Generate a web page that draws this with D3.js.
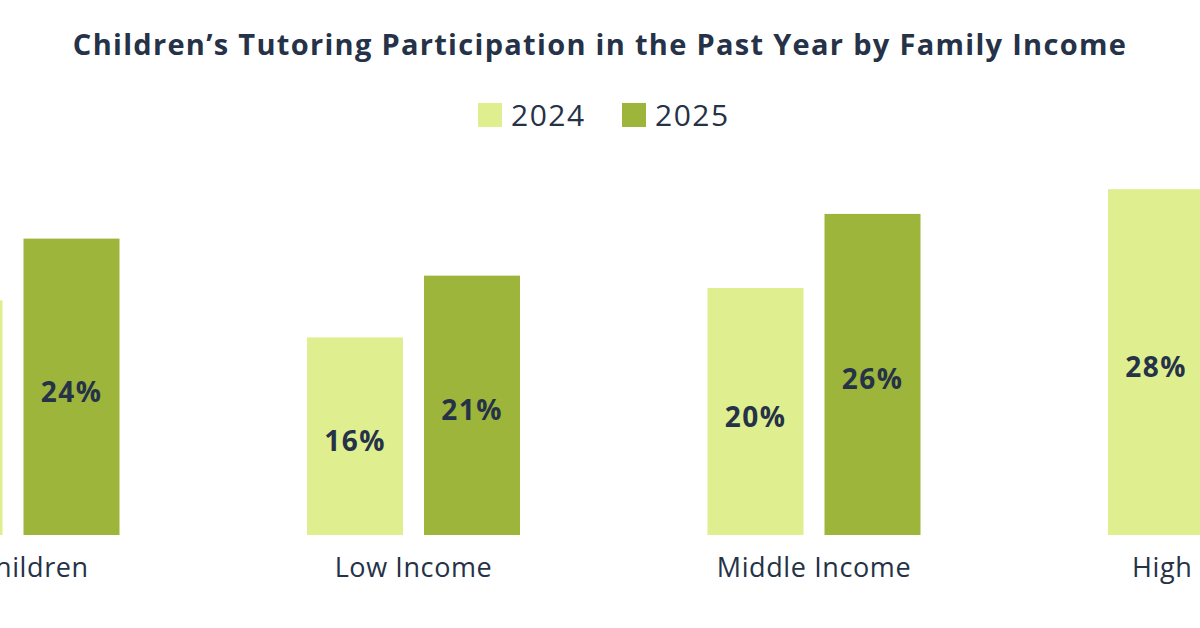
<!DOCTYPE html>
<html>
<head>
<meta charset="utf-8">
<script src="https://cdn.jsdelivr.net/npm/d3@7"></script>
<style>
  body { margin: 0; background: #fff; }
  text { font-family: "Open Sans", "Noto Sans", sans-serif; fill: #253247; }
</style>
</head>
<body>
<div id="chart"></div>
<script>
// chart data
var categories = ["All Children", "Low Income", "Middle Income", "High Income"];
var seriesNames = ["2024", "2025"];
var values2024 = [19, 16, 20, 28];
var values2025 = [24, 21, 26, 33];
var colors = ["#dfee8e", "#9db53b"];

var width = 1200, height = 628;
var baseline = 535;

var svg = d3.select("#chart").append("svg")
  .attr("width", width)
  .attr("height", height);

// group centers (the picture is cropped on both sides)
var x0 = d3.scalePoint().domain(categories).range([13, 1214.5]);
var x1 = d3.scaleBand().domain(seriesNames).range([-106.5, 106.5]).paddingInner(21 / 117);
var y = d3.scaleLinear().domain([0, 10]).range([baseline, baseline - 123.5]);

var rows = [];
categories.forEach(function(c, i) {
  rows.push({ cat: c, series: "2024", value: values2024[i] });
  rows.push({ cat: c, series: "2025", value: values2025[i] });
});

svg.append("text")
  .attr("x", 600).attr("y", 55)
  .attr("text-anchor", "middle")
  .style("font-size", "29px").style("font-weight", "bold")
  .style("letter-spacing", "1.3px")
  .text("Children\u2019s Tutoring Participation in the Past Year by Family Income");

// legend
var legendX = [478, 622];
seriesNames.forEach(function(s, i) {
  svg.append("rect").attr("x", legendX[i]).attr("y", 103).attr("width", 24).attr("height", 24)
    .attr("fill", colors[i]);
  svg.append("text").attr("x", legendX[i] + 33).attr("y", 126)
    .style("font-size", "30px").style("letter-spacing", "1.5px").text(s);
});

var bars = svg.selectAll(".bar").data(rows).enter().append("g");

bars.append("rect")
  .attr("x", d => x0(d.cat) + x1(d.series))
  .attr("y", d => y(d.value))
  .attr("width", x1.bandwidth())
  .attr("height", d => baseline - y(d.value))
  .attr("fill", d => colors[seriesNames.indexOf(d.series)]);

bars.append("text")
  .attr("x", d => x0(d.cat) + x1(d.series) + x1.bandwidth() / 2)
  .attr("y", d => (y(d.value) + baseline) / 2 + 15)
  .attr("text-anchor", "middle")
  .style("font-size", "28px").style("font-weight", "bold")
  .style("letter-spacing", "1.5px")
  .text(d => d.value + "%");

svg.selectAll(".cat").data(categories).enter().append("text")
  .attr("x", d => x0(d))
  .attr("y", 577)
  .attr("text-anchor", "middle")
  .style("font-size", "27px").style("letter-spacing", "0.6px")
  .text(d => d);
</script>
</body>
</html>
